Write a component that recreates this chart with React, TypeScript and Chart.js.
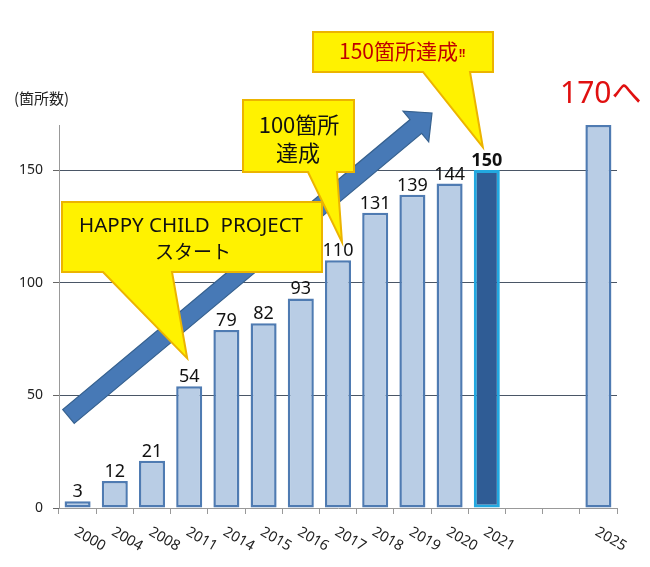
import { useEffect, useRef } from 'react';
import { Chart, registerables } from 'chart.js';

Chart.register(...registerables);

// ---- data ----
const years = ['2000', '2004', '2008', '2011', '2014', '2015', '2016', '2017', '2018', '2019', '2020', '2021', '', '', '2025'];
const counts: (number | null)[] = [3, 12, 21, 54, 79, 82, 93, 110, 131, 139, 144, 150, null, null, 170];
const countLabels = ['3', '12', '21', '54', '79', '82', '93', '110', '131', '139', '144', '150', '', '', ''];
const highlightYear = '2021';
const yTickValues = [0, 50, 100, 150];
const yMax = 170;
const unitLabel = '(箇所数)';
const targetLabel = '170へ';
const startCallout = ['HAPPY CHILD  PROJECT', 'スタート'];
const hundredCallout = ['100箇所', '達成'];
const milestoneCallout = ['150箇所達成', '‼'];

const SANS = '"Noto Sans", "Noto Sans CJK JP", sans-serif';
const CJK = '"Noto Sans CJK JP", "Noto Sans", sans-serif';

function drawArrow(ctx: CanvasRenderingContext2D, x0: number, y0: number, x1: number, y1: number, sh: number, hl: number, hh: number) {
  const dx = x1 - x0, dy = y1 - y0, L = Math.hypot(dx, dy);
  const ux = dx / L, uy = dy / L, nx = -uy, ny = ux;
  const bx = x1 - ux * hl, by = y1 - uy * hl;
  ctx.save();
  ctx.beginPath();
  ctx.moveTo(x0 + nx * sh, y0 + ny * sh);
  ctx.lineTo(bx + nx * sh, by + ny * sh);
  ctx.lineTo(bx + nx * hh, by + ny * hh);
  ctx.lineTo(x1, y1);
  ctx.lineTo(bx - nx * hh, by - ny * hh);
  ctx.lineTo(bx - nx * sh, by - ny * sh);
  ctx.lineTo(x0 - nx * sh, y0 - ny * sh);
  ctx.closePath();
  ctx.fillStyle = '#4779b6';
  ctx.fill();
  ctx.strokeStyle = '#36618f';
  ctx.lineWidth = 1.2;
  ctx.stroke();
  ctx.restore();
}

function drawCallout(ctx: CanvasRenderingContext2D, x1: number, y1: number, x2: number, y2: number, b1: number, b2: number, tx: number, ty: number) {
  ctx.save();
  ctx.beginPath();
  ctx.moveTo(x1, y1);
  ctx.lineTo(x2, y1);
  ctx.lineTo(x2, y2);
  ctx.lineTo(b2, y2);
  ctx.lineTo(tx, ty);
  ctx.lineTo(b1, y2);
  ctx.lineTo(x1, y2);
  ctx.closePath();
  ctx.fillStyle = '#fff200';
  ctx.fill();
  ctx.strokeStyle = '#ecb400';
  ctx.lineWidth = 2;
  ctx.lineJoin = 'miter';
  ctx.stroke();
  ctx.restore();
}

const overlay = {
  id: 'overlay',
  afterDatasetsDraw(chart: any) {
    const ctx: CanvasRenderingContext2D = chart.ctx;
    const xs = chart.scales.x, ys = chart.scales.y;
    drawArrow(ctx, 68.5, 416.5, 432, 113, 9, 21, 20);
    ctx.save();
    ctx.textAlign = 'center';
    ctx.textBaseline = 'alphabetic';
    ctx.fillStyle = '#111';
    counts.forEach((v, i) => {
      if (v == null || !countLabels[i]) return;
      ctx.font = (years[i] === highlightYear ? 'bold ' : '') + '18px ' + SANS;
      ctx.fillText(countLabels[i], xs.getPixelForValue(i), ys.getPixelForValue(v) - 4);
    });
    ctx.restore();
  },
  afterDraw(chart: any) {
    const ctx: CanvasRenderingContext2D = chart.ctx;
    const xs = chart.scales.x, ys = chart.scales.y;

    // x labels, rotated
    ctx.save();
    ctx.fillStyle = '#222';
    ctx.font = '14.5px ' + SANS;
    ctx.textAlign = 'left';
    ctx.textBaseline = 'middle';
    years.forEach((yr, i) => {
      if (!yr) return;
      ctx.save();
      ctx.translate(xs.getPixelForValue(i) - 2, 531);
      ctx.rotate((30 * Math.PI) / 180);
      ctx.fillText(yr, 0, 0);
      ctx.restore();
    });
    ctx.restore();

    // callouts
    const i11 = years.indexOf('2011');
    const i17 = years.indexOf('2017');
    const i21 = years.indexOf('2021');
    drawCallout(ctx, 62, 202, 322, 272, 103, 172, xs.getPixelForValue(i11) - 2, ys.getPixelForValue(counts[i11]) - 28);
    drawCallout(ctx, 243, 100, 354, 172, 308, 337, xs.getPixelForValue(i17) + 4, ys.getPixelForValue(counts[i17]) - 18);
    drawCallout(ctx, 313, 32, 493, 72, 423, 470, xs.getPixelForValue(i21) - 4, ys.getPixelForValue(counts[i21]) - 23);

    ctx.save();
    ctx.textAlign = 'center';
    ctx.textBaseline = 'middle';
    ctx.fillStyle = '#111';
    ctx.font = '20.5px ' + SANS;
    ctx.fillText(startCallout[0], 191, 226);
    ctx.font = '19px ' + CJK;
    ctx.fillText(startCallout[1], 193, 252);
    ctx.font = '22px ' + CJK;
    ctx.fillText(hundredCallout[0], 299, 125);
    ctx.fillText(hundredCallout[1], 298, 153);
    ctx.fillStyle = '#c00000';
    ctx.font = '21px ' + CJK;
    ctx.textAlign = 'right';
    ctx.fillText(milestoneCallout[0], 458, 51);
    ctx.textAlign = 'left';
    ctx.font = 'bold 11px ' + SANS;
    ctx.fillText(milestoneCallout[1], 459, 54);
    ctx.restore();

    // unit + target labels
    ctx.save();
    ctx.textBaseline = 'middle';
    ctx.textAlign = 'left';
    ctx.fillStyle = '#222';
    ctx.font = '15px ' + CJK;
    ctx.fillText(unitLabel, 14, 98);
    ctx.fillStyle = '#e01010';
    ctx.font = '30px ' + SANS;
    ctx.fillText(targetLabel, 560, 94);
    ctx.restore();
  },
};

export default function App() {
  const ref = useRef<HTMLCanvasElement>(null);
  useEffect(() => {
    const chart = new Chart(ref.current!, {
      type: 'bar',
      data: {
        labels: years,
        datasets: [
          {
            data: counts,
            backgroundColor: years.map((y) => (y === highlightYear ? '#2f5c95' : '#b9cde5')),
            borderColor: years.map((y) => (y === highlightYear ? '#22a8e0' : '#4f7bb2')),
            borderWidth: years.map((y) => (y === highlightYear ? 3 : 2.5)),
            borderSkipped: false,
            categoryPercentage: 1,
            barPercentage: 0.7,
          },
        ],
      },
      options: {
        responsive: false,
        animation: false,
        layout: { padding: { top: 125, right: 33, left: 0, bottom: 0 } },
        plugins: { legend: { display: false }, tooltip: { enabled: false } },
        scales: {
          x: {
            afterFit: (s: any) => { s.height = 59; },
            ticks: { display: false },
            grid: { drawOnChartArea: false, drawTicks: true, tickLength: 6, color: '#999', offset: true },
            border: { color: '#999', width: 1 },
          },
          y: {
            min: 0,
            max: yMax,
            afterFit: (s: any) => { s.width = 59; },
            afterBuildTicks: (s: any) => { s.ticks = yTickValues.map((v) => ({ value: v })); },
            ticks: { stepSize: 50, padding: 10, color: '#222', font: { family: SANS, size: 14 } },
            grid: {
              color: (c: any) => (c.tick && c.tick.value === 0 ? 'rgba(0,0,0,0)' : '#4a5666'),
              tickColor: '#666',
              tickLength: 6,
            },
            border: { color: '#999', width: 1 },
          },
        },
      },
      plugins: [overlay],
    } as any);
    return () => chart.destroy();
  }, []);
  return (
    <div style={{ position: 'absolute', left: 0, top: 0, width: 650, height: 567, background: '#fff' }}>
      <canvas ref={ref} width={650} height={567} style={{ display: 'block', width: 650, height: 567 }} />
    </div>
  );
}
